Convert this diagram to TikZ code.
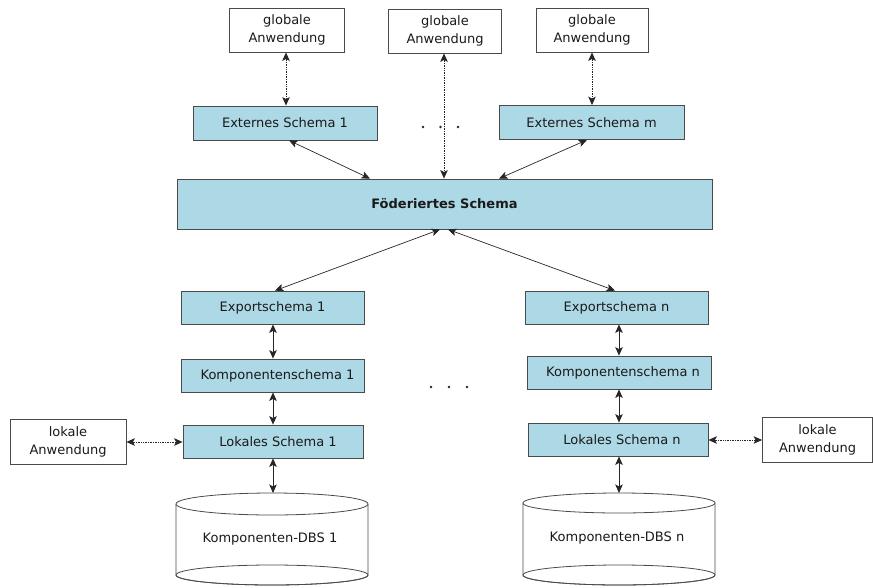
\documentclass[tikz,border=0pt]{standalone}
\usepackage{fontspec}
\setmainfont{DejaVu Sans}
\usetikzlibrary{arrows.meta}
\definecolor{boxblue}{HTML}{ADD8E6}
\definecolor{edge}{HTML}{4A4A4A}
\definecolor{txt}{HTML}{1A1A1A}
\begin{document}
\begin{tikzpicture}[x=1pt,y=-1pt,
  every node/.style={font=\fontsize{13}{18}\selectfont, text=txt},
  appbox/.style={draw=edge, fill=white, line width=0.8pt, align=center, inner sep=0pt},
  schemabox/.style={draw=edge, fill=boxblue, line width=0.8pt, align=center, inner sep=0pt},
  link/.style={draw=black!85, line width=0.7pt, {Stealth[length=8.5pt,width=7.5pt,inset=2pt]}-{Stealth[length=8.5pt,width=7.5pt,inset=2pt]}},
  dlink/.style={link, densely dotted},
  dots/.style={fill=black!85, circle, inner sep=0pt, minimum size=2.6pt}]
\useasboundingbox (0,0) rectangle (873,587);

% top applications
\node[appbox, minimum width=115pt, minimum height=44pt] (g1) at (287,30) {globale\\Anwendung};
\node[appbox, minimum width=113pt, minimum height=44pt] (g2) at (445,31) {globale\\Anwendung};
\node[appbox, minimum width=112pt, minimum height=44pt] (g3) at (592,30) {globale\\Anwendung};

% external schemas
\node[schemabox, minimum width=184pt, minimum height=34pt] (e1) at (285,123) {Externes Schema 1};
\node[schemabox, minimum width=185pt, minimum height=34pt] (em) at (591.5,122.5) {Externes Schema m};
\node[dots] (d1) at (423,127) {};
\node[dots] (d2) at (440.5,127) {};
\node[dots] (d3) at (458,127) {};

% federated schema
\node[schemabox, minimum width=535pt, minimum height=50pt, font=\fontsize{13}{18}\selectfont\bfseries] (F) at (444.5,204) {Föderiertes Schema};

% export schemas
\node[schemabox, minimum width=183pt, minimum height=33pt] (x1) at (272.5,307.5) {Exportschema 1};
\node[schemabox, minimum width=183pt, minimum height=33pt] (xn) at (616.5,307.5) {Exportschema n};

% component schemas
\node[schemabox, minimum width=183pt, minimum height=33pt] (k1) at (272.5,375.5) {\hspace*{10pt}Komponentenschema 1};
\node[schemabox, minimum width=184pt, minimum height=33pt] (kn) at (619,372.5) {\hspace*{8pt}Komponentenschema n};
\node[dots] (m1) at (431,387) {};
\node[dots] (m2) at (449,387) {};
\node[dots] (m3) at (467,387) {};

% local schemas
\node[schemabox, minimum width=180pt, minimum height=33pt] (l1) at (273,441.5) {\hspace*{10pt}Lokales Schema 1};
\node[schemabox, minimum width=180pt, minimum height=33pt] (ln) at (618,439.5) {\hspace*{8pt}Lokales Schema n};

% local applications
\node[appbox, minimum width=116pt, minimum height=45pt] (a1) at (68,441.5) {lokale\\Anwendung};
\node[appbox, minimum width=110pt, minimum height=45pt] (an) at (817.5,439.5) {lokale\\Anwendung};

% cylinders
\draw[edge, line width=0.8pt, fill=white] (176,504) -- (176,575) arc[start angle=180, end angle=360, x radius=96, y radius=-10] -- (368,504);
\draw[edge, line width=0.8pt] (272,575) ellipse [x radius=96, y radius=10];
\draw[edge, line width=0.8pt, fill=white] (272,504) ellipse [x radius=96, y radius=11];
\node (c1) at (270,539) {Komponenten-DBS 1};
\coordinate (c1top) at (273,493);

\draw[edge, line width=0.8pt, fill=white] (523,503) -- (523,575) arc[start angle=180, end angle=360, x radius=96, y radius=-10] -- (715,503);
\draw[edge, line width=0.8pt] (619,575) ellipse [x radius=96, y radius=10];
\draw[edge, line width=0.8pt, fill=white] (619,503) ellipse [x radius=96, y radius=10];
\node (cn) at (617,538) {Komponenten-DBS n};
\coordinate (cntop) at (619,493);

% connectors
\draw[dlink] (g1.south -| 286,0) -- (e1.north -| 286,0);
\draw[dlink] (g2.south -| 444,0) -- (F.north -| 444,0);
\draw[dlink] (g3.south -| 592,0) -- (em.north -| 592,0);
\draw[link] ([xshift=4pt]e1.south) -- ([xshift=-74.5pt]F.north);
\draw[link] ([xshift=-4.5pt]em.south) -- ([xshift=54.5pt]F.north);
\draw[link] ([xshift=-4.5pt]F.south) -- ([xshift=2.5pt]x1.north);
\draw[link] ([xshift=3.5pt]F.south) -- ([xshift=-1.5pt]xn.north);
\draw[link] (x1.south -| 273,0) -- (k1.north -| 273,0);
\draw[link] (k1.south -| 273,0) -- (l1.north -| 273,0);
\draw[link] (l1.south -| 273,0) -- (c1top);
\draw[link] (xn.south -| 619,0) -- (kn.north -| 619,0);
\draw[link] (kn.south -| 619,0) -- (ln.north -| 619,0);
\draw[link] (ln.south -| 619,0) -- (cntop);
\draw[dlink] (a1.east |- 0,442) -- (l1.west |- 0,442);
\draw[dlink] (ln.east |- 0,440) -- (an.west |- 0,440);
\end{tikzpicture}
\end{document}
